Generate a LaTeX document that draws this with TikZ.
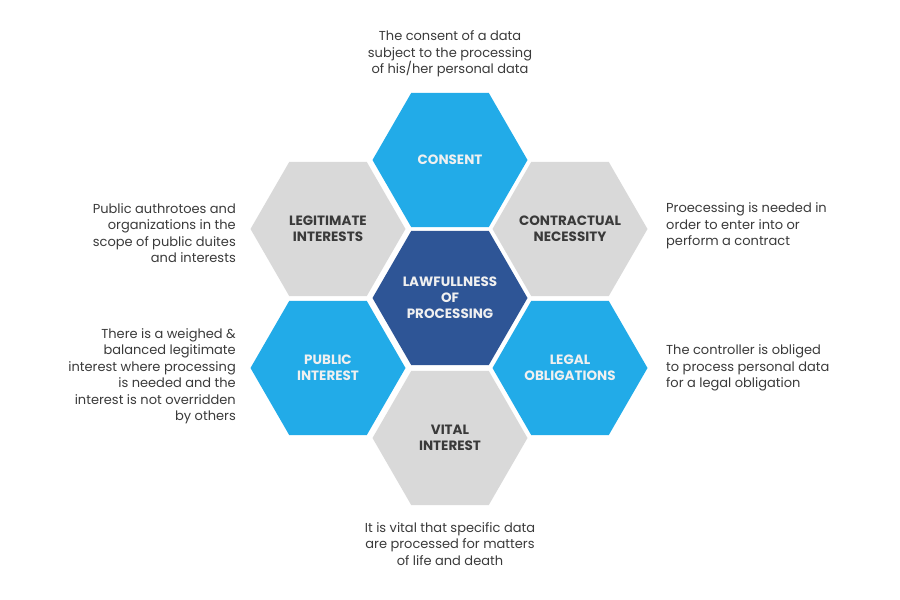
\documentclass[tikz,border=0pt]{standalone}
\usepackage{fontspec}
\setmainfont{Poppins}
\usepackage{tikz}
\usetikzlibrary{shapes.geometric, positioning}
\definecolor{hexblue}{HTML}{22ABE8}
\definecolor{hexdark}{HTML}{2E5596}
\definecolor{hexgray}{HTML}{D9D9D9}
\definecolor{txtgray}{HTML}{3A3A3A}
\begin{document}
\begin{tikzpicture}[
    x=1pt, y=-1pt,
    hex/.style={regular polygon, regular polygon sides=6, minimum size=155pt, inner sep=-15pt, align=center, font=\fontsize{13.5}{16.2}\selectfont\bfseries},
    bluehex/.style={hex, fill=hexblue, text=white!94!black},
    grayhex/.style={hex, fill=hexgray, text=txtgray},
    darkhex/.style={hex, fill=hexdark, text=white!94!black},
    note/.style={font=\fontsize{13}{16.5}\selectfont, text=txtgray, inner sep=0pt}
]
\useasboundingbox (0,0) rectangle (900,600);
% Centre hexagon
\node[darkhex] (lawful) at (450,298) {LAWFULLNESS\\OF\\PROCESSING};
% Ring of hexagons
\node[bluehex] (consent) at (450,160) {CONSENT};
\node[grayhex] (contract) at (570,229) {CONTRACTUAL\\NECESSITY};
\node[bluehex] (legal) at (570,368) {LEGAL\\OBLIGATIONS};
\node[grayhex] (vital) at (450,438) {VITAL\\INTEREST};
\node[bluehex] (public) at (328,368) {PUBLIC\\INTEREST};
\node[grayhex] (legit) at (328,229) {LEGITIMATE\\INTERESTS};
% Descriptions
\node[note, align=center] (consentnote) at (450,54) {The consent of a data\\subject to the processing\\of his/her personal data};
\node[note, align=left, anchor=west] (contractnote) at (666,226) {Proecessing is needed in\\order to enter into or\\perform a contract};
\node[note, align=left, anchor=west] (legalnote) at (666,368) {The controller is obliged\\to process personal data\\for a legal obligation};
\node[note, align=center] (vitalnote) at (450,544) {It is vital that specific data\\are processed for matters\\of life and death};
\node[note, align=right, anchor=east] (publicnote) at (236,376) {There is a weighed \&\\balanced legitimate\\interest where processing\\is needed and the\\interest is not overridden\\by others};
\node[note, align=right, anchor=east] (legitnote) at (236,233) {Public authrotoes and\\organizations in the\\scope of public duites\\and interests};
\end{tikzpicture}
\end{document}
